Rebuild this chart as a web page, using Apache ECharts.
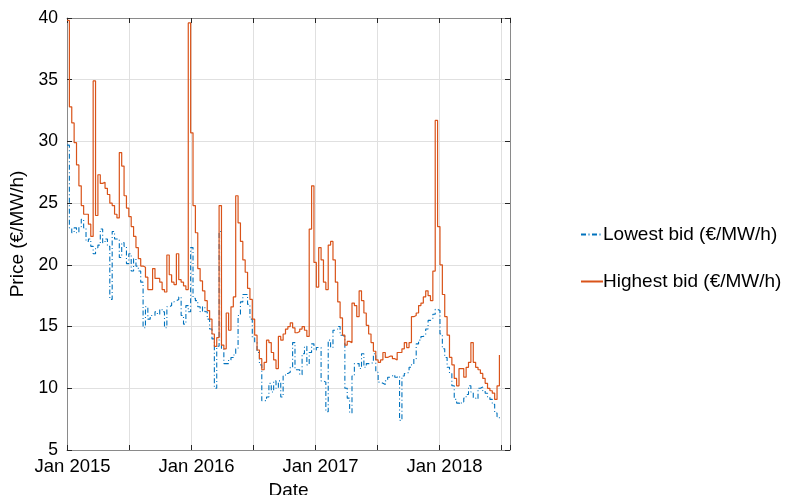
<!DOCTYPE html>
<html>
<head>
<meta charset="utf-8">
<script src="https://cdn.jsdelivr.net/npm/echarts@6/dist/echarts.min.js"></script>
<style>html,body{margin:0;padding:0;background:#fff}#c{width:791px;height:495px}</style>
</head>
<body>
<div id="c"></div>
<script>
// Weekly series, first week starting 2015-01-01
const startDate = '2015-01-01';
const stepDays = 7;
const seriesNames = ['Lowest bid (€/MW/h)', 'Highest bid (€/MW/h)'];
const xTickYears = [2015, 2016, 2017, 2018];
const yTicks = [5, 10, 15, 20, 25, 30, 35, 40];

const lowestBid = [
 29.7, 23.0, 22.6, 23.0, 22.6, 23.1, 23.7, 23.0, 21.9, 22.1,
 21.5, 20.9, 21.4, 21.6, 22.9, 21.8, 22.1, 21.5, 17.2, 22.7,
 22.1, 22.1, 20.6, 21.8, 21.5, 20.1, 20.9, 19.5, 20.5, 19.9,
 19.5, 18.6, 14.9, 16.6, 15.6, 15.9, 15.9, 16.2, 16.0, 16.4,
 16.2, 14.9, 16.6, 16.7, 17.0, 17.1, 17.2, 17.4, 15.9, 15.2,
 16.7, 16.2, 21.4, 17.3, 17.1, 16.6, 16.2, 16.6, 16.2, 15.6,
 14.8, 14.0, 10.0, 13.4, 22.7, 13.2, 12.0, 12.0, 12.3, 12.5,
 12.7, 13.2, 15.9, 17.0, 17.6, 17.6, 16.8, 15.6, 14.1, 13.7,
 12.9, 11.9, 9.0, 9.0, 9.3, 10.4, 9.7, 10.6, 10.0, 10.6,
 9.3, 11.0, 11.2, 11.3, 11.7, 13.7, 11.5, 11.5, 11.1, 12.8,
 13.4, 11.9, 12.9, 13.6, 13.1, 13.3, 13.3, 10.6, 10.5, 8.1,
 13.9, 13.3, 14.7, 14.8, 15.0, 14.3, 14.2, 10.0, 9.2, 8.0,
 11.0, 12.0, 12.0, 11.6, 12.8, 11.7, 12.0, 12.0, 12.1, 12.8,
 11.3, 10.5, 10.4, 10.3, 10.6, 10.9, 11.0, 11.1, 10.9, 11.0,
 7.4, 11.0, 11.2, 11.3, 11.7, 11.9, 12.4, 13.6, 13.9, 14.2,
 14.3, 14.8, 15.5, 15.6, 16.0, 16.4, 16.3, 14.4, 13.2, 12.5,
 11.7, 11.2, 10.2, 9.1, 8.8, 8.7, 8.9, 9.2, 9.5, 10.2,
 9.7, 9.2, 9.1, 10.0, 10.1, 9.8, 9.6, 9.3, 9.1, 8.7,
 8.0, 7.7, 7.4
];

const highestBid = [
 39.8, 32.8, 31.5, 29.9, 28.1, 26.4, 24.8, 24.1, 24.1, 23.3,
 22.3, 34.9, 24.0, 27.3, 26.6, 26.7, 26.2, 25.7, 25.0, 24.8,
 24.1, 23.8, 29.1, 28.0, 25.6, 24.6, 23.9, 23.1, 22.3, 21.4,
 20.5, 19.9, 19.8, 19.0, 18.0, 18.0, 19.7, 18.9, 18.9, 18.6,
 18.0, 17.8, 20.8, 19.2, 18.6, 18.4, 20.9, 18.8, 18.6, 18.3,
 18.0, 39.6, 30.7, 24.8, 22.6, 19.7, 18.7, 17.9, 17.1, 16.3,
 15.6, 14.4, 13.4, 14.1, 24.8, 13.5, 13.2, 16.1, 14.7, 16.6,
 17.4, 25.6, 23.4, 21.9, 20.4, 19.4, 18.1, 17.2, 15.6, 14.3,
 13.1, 12.4, 11.5, 12.1, 13.9, 13.7, 12.9, 12.3, 11.6, 14.2,
 13.9, 14.4, 14.8, 15.0, 15.3, 14.9, 14.5, 14.6, 14.8, 15.0,
 14.7, 14.2, 22.9, 26.4, 20.2, 18.2, 21.4, 20.4, 18.6, 18.0,
 21.6, 21.9, 20.4, 18.6, 17.0, 15.7, 14.3, 13.5, 13.8, 13.7,
 16.9, 16.7, 15.8, 17.9, 17.1, 16.1, 15.1, 14.4, 13.7, 13.0,
 12.3, 12.1, 12.3, 12.9, 12.5, 12.6, 12.6, 12.4, 12.3, 12.9,
 12.9, 13.2, 13.7, 13.3, 13.7, 15.8, 15.9, 16.1, 16.7, 16.9,
 17.4, 17.9, 17.5, 17.1, 19.5, 31.7, 23.1, 20.0, 17.6, 15.8,
 14.3, 12.5, 11.9, 10.8, 10.2, 11.6, 11.6, 10.9, 11.7, 12.1,
 13.7, 12.1, 11.7, 11.5, 11.2, 10.8, 10.4, 10.0, 9.8, 9.6,
 9.1, 10.2, 12.7
];

// convert a week index to a fractional year for the value axis
function weekToYear(i) {
  const t0 = Date.parse(startDate + 'T00:00:00Z');
  const t = t0 + i * stepDays * 86400000;
  const d = new Date(t);
  const y = d.getUTCFullYear();
  const ys = Date.UTC(y, 0, 1), ye = Date.UTC(y + 1, 0, 1);
  return y + (t - ys) / (ye - ys);
}
const toPairs = arr => arr.map((v, i) => [weekToYear(i), v]);

const FONT = 'Liberation Sans, Arial, Helvetica, sans-serif';
const axisColor = '#262626';
const gridColor = '#e0e0e0';
const frameColor = '#8a8a8a';

const chart = echarts.init(document.getElementById('c'), null, {renderer: 'canvas'});
const xCommon = {type: 'value', min: 2015, max: 2018.573, interval: 0.5};
chart.setOption({
  animation: false,
  backgroundColor: '#fff',
  grid: {left: 67, right: 281, top: 18, bottom: 45, containLabel: false, outerBoundsMode: 'none'},
  legend: {
    orient: 'vertical', left: 575, top: 219,
    itemWidth: 22, itemHeight: 14, itemGap: 26,
    itemStyle: {opacity: 0},
    textStyle: {fontFamily: FONT, fontSize: 19, color: '#000', lineHeight: 21, padding: [0, 0, 0, -5]},
    data: seriesNames
  },
  xAxis: [
    Object.assign({}, xCommon, {
      position: 'bottom',
      name: 'Date', nameLocation: 'middle', nameGap: 28,
      nameTextStyle: {fontFamily: FONT, fontSize: 19, color: '#000'},
      axisLine: {show: true, lineStyle: {color: frameColor, width: 1}},
      axisTick: {show: true, inside: true, length: 5, lineStyle: {color: axisColor}},
      axisLabel: {
        fontFamily: FONT, fontSize: 18.5, color: '#000', margin: 7, padding: [0, 0, 0, 11],
        formatter: v => (xTickYears.indexOf(Math.round(v)) >= 0 && Math.abs(v - Math.round(v)) < 1e-6) ? 'Jan ' + Math.round(v) : ''
      },
      splitLine: {show: true, lineStyle: {color: gridColor, width: 1}}
    }),
    Object.assign({}, xCommon, {
      position: 'top',
      axisLine: {show: true, lineStyle: {color: frameColor, width: 1}},
      axisTick: {show: true, inside: true, length: 5, lineStyle: {color: axisColor}},
      axisLabel: {show: false}, splitLine: {show: false}
    })
  ],
  yAxis: [
    {
      type: 'value', min: 5, max: 40, interval: 5, position: 'left',
      name: 'Price (€/MW/h)', nameLocation: 'middle', nameGap: 36, nameRotate: 90,
      nameTextStyle: {fontFamily: FONT, fontSize: 19, color: '#000'},
      axisLine: {show: true, lineStyle: {color: frameColor, width: 1}},
      axisTick: {show: true, inside: true, length: 5, lineStyle: {color: axisColor}},
      axisLabel: {fontFamily: FONT, fontSize: 17.5, color: '#000', margin: 9,
        formatter: v => yTicks.indexOf(v) >= 0 ? String(v) : ''},
      splitLine: {show: true, lineStyle: {color: gridColor, width: 1}}
    },
    {
      type: 'value', min: 5, max: 40, interval: 5, position: 'right',
      axisLine: {show: true, lineStyle: {color: frameColor, width: 1}},
      axisTick: {show: true, inside: true, length: 5, lineStyle: {color: axisColor}},
      axisLabel: {show: false}, splitLine: {show: false}
    }
  ],
  series: [
    {
      name: seriesNames[0], type: 'line', step: 'end', symbol: 'none', showSymbol: false,
      xAxisIndex: 0, yAxisIndex: 0,
      data: toPairs(lowestBid),
      lineStyle: {color: '#0072BD', width: 1.1, type: [5, 2.5, 1, 2.5]},
      itemStyle: {color: '#0072BD'}
    },
    {
      name: seriesNames[1], type: 'line', step: 'end', symbol: 'none', showSymbol: false,
      xAxisIndex: 0, yAxisIndex: 0,
      data: toPairs(highestBid),
      lineStyle: {color: '#D95319', width: 1.2},
      itemStyle: {color: '#D95319'}
    }
  ]
});
</script>
</body>
</html>
